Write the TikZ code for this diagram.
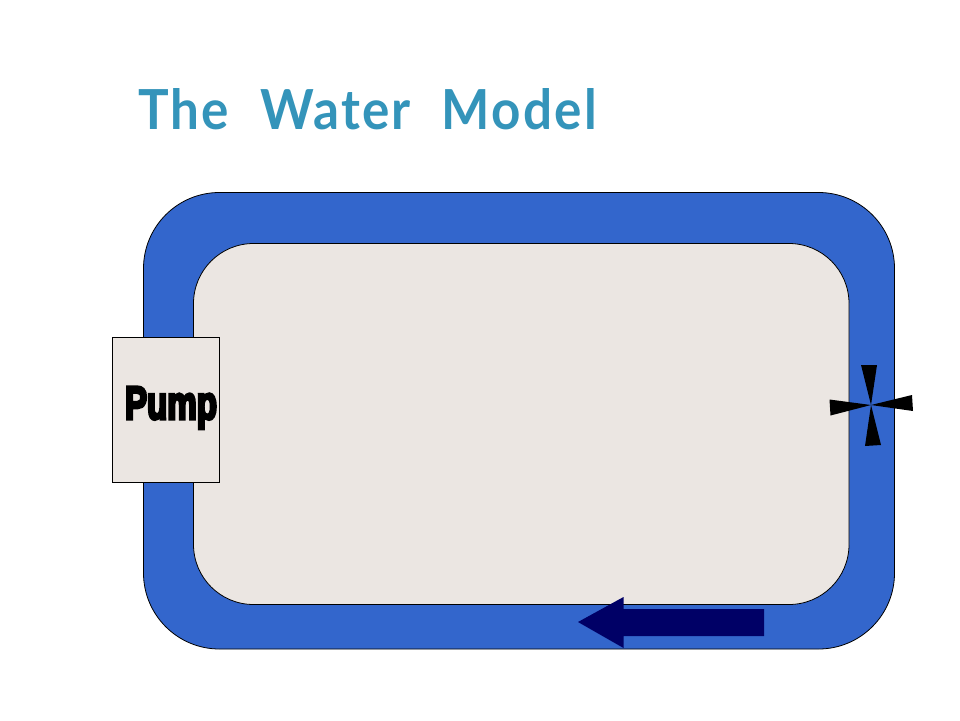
\documentclass[tikz,border=0pt]{standalone}
\usepackage{fontspec}
\setmainfont{Liberation Sans}
\newfontfamily\titlefont[LetterSpace=4.5,WordSpace=2.1]{Lato}
\newfontfamily\pumpfont[FakeBold=7]{Liberation Sans}
\definecolor{waterblue}{HTML}{3366CC}
\definecolor{wallgrey}{HTML}{EBE6E2}
\definecolor{titleblue}{HTML}{3494BA}
\definecolor{arrownavy}{HTML}{000066}
\tikzset{
  outline/.style={draw=black,line width=0.8pt},
  wedge/.style={fill=black,draw=none},
}
\begin{document}
\begin{tikzpicture}[x=1pt,y=-1pt]
\useasboundingbox (0,0) rectangle (960,720);
\fill[white] (0,0) rectangle (960,720);
% pipe loop
\draw[outline,fill=waterblue,rounded corners=76pt] (143.5,192.5) rectangle (894.5,649);
\draw[outline,fill=wallgrey,rounded corners=60pt] (193.5,243.5) rectangle (849,604.5);
% pump
\node[outline,fill=wallgrey,minimum width=107pt,minimum height=145pt,inner sep=0pt,outer sep=0pt,anchor=center] (pump) at (166,410) {};
\node[anchor=base,inner sep=0pt] (pumplabel) at (171,419) {\pumpfont\bfseries\fontsize{38}{38}\selectfont\resizebox{92pt}{32pt}{Pump}};
% resistor
\coordinate (c) at (871,405);
\fill[wedge] (c) -- (861,365) -- (877,365) -- cycle;
\fill[wedge] (c) -- (865,446) -- (881,445) -- cycle;
\fill[wedge] (c) -- (829.5,399.5) -- (830.5,415.5) -- cycle;
\fill[wedge] (c) -- (912,395) -- (913,411) -- cycle;
% flow arrow
\fill[arrownavy] (578,622) -- (623.5,597) -- (623.5,609) -- (764,609) -- (764,636) -- (623.5,636) -- (623.5,648) -- cycle;
% title
\node[anchor=base west,inner sep=0pt,text=titleblue] (title) at (138,129) {\resizebox{459pt}{41pt}{\titlefont\bfseries The Water Model}};
\end{tikzpicture}
\end{document}
